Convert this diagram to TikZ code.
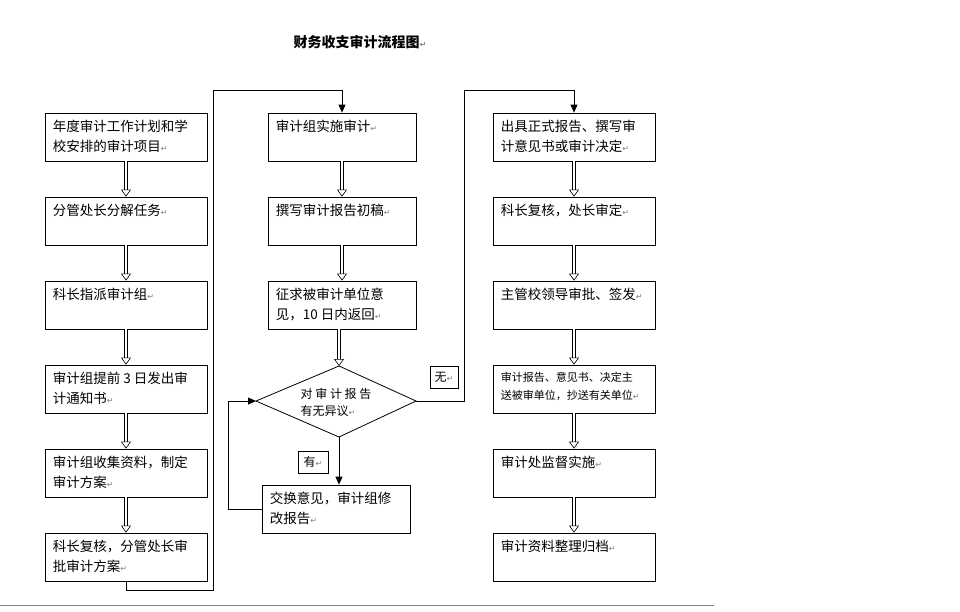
\documentclass[tikz,border=0pt]{standalone}
\usepackage{fontspec}
\setmainfont{Noto Sans CJK SC}
\newfontfamily\pmark{DejaVu Sans}
\usetikzlibrary{arrows.meta,calc}
\newcommand{\parmk}{{\pmark\color{gray}\fontsize{8}{8}\selectfont ↵}}
\tikzset{
  box/.style={draw, line width=0.8pt, minimum width=162pt, minimum height=48pt, inner sep=0pt},
  mbox/.style={draw, line width=0.8pt, minimum width=148pt, minimum height=48pt, inner sep=0pt},
  txt/.style={anchor=north west, align=left, inner sep=0pt, font=\fontsize{13.5}{20}\selectfont},
  harrow/.style={double, double distance=2.5pt, line width=0.6pt, -{Triangle[open, length=7pt, width=10pt]}},
  link/.style={line width=0.8pt},
  larrow/.style={line width=0.8pt, -{Triangle[length=8pt, width=7pt]}},
}
\newcommand{\bt}[2]{\node[txt] at ($(#1.north west)+(8,7)$) {#2};}
\begin{document}
\begin{tikzpicture}[x=1pt,y=-1pt]
\useasboundingbox (0,0) rectangle (960,611);
\node[font=\bfseries\fontsize{14}{14}\selectfont] (title) at (360,42) {财务收支审计流程图\parmk};
% left column
\foreach \n/\y in {l1/137,l2/221,l3/305,l4/389,l5/473,l6/557} \node[box] (\n) at (126,\y) {};
\foreach \n/\y in {r1/137,r2/221,r3/305,r4/389,r5/473,r6/557} \node[box] (\n) at (574,\y) {};
\foreach \n/\y in {m1/137,m2/221,m3/305} \node[mbox] (\n) at (342,\y) {};
\node[mbox] (m5) at (336,509) {};
\bt{l1}{年度审计工作计划和学\\校安排的审计项目\parmk}
\bt{l2}{分管处长分解任务\parmk}
\bt{l3}{科长指派审计组\parmk}
\bt{l4}{审计组提前 3 日发出审\\计通知书\parmk}
\bt{l5}{审计组收集资料，制定\\审计方案\parmk}
\bt{l6}{科长复核，分管处长审\\批审计方案\parmk}
\bt{m1}{审计组实施审计\parmk}
\bt{m2}{撰写审计报告初稿\parmk}
\bt{m3}{征求被审计单位意\\见，10 日内返回\parmk}
\bt{m5}{交换意见，审计组修\\改报告\parmk}
\bt{r1}{出具正式报告、撰写审\\计意见书或审计决定\parmk}
\bt{r2}{科长复核，处长审定\parmk}
\bt{r3}{主管校领导审批、签发\parmk}
\node[txt, font=\fontsize{11}{18}\selectfont] at ($(r4.north west)+(8,7)$) {审计报告、意见书、决定主\\送被审单位，抄送有关单位\parmk};
\bt{r5}{审计处监督实施\parmk}
\bt{r6}{审计资料整理归档\parmk}
% diamond
\coordinate (dl) at (256,401);
\coordinate (dr) at (416,401);
\coordinate (dt) at (339,366);
\coordinate (db) at (339,437);
\draw[link] (dl) -- (dt) -- (dr) -- (db) -- cycle;
\node[align=left, font=\fontsize{12}{17}\selectfont] (dtext) at (336,402) {对 审 计 报 告\\有无异议\parmk};
% hollow arrows
\foreach \a/\b in {l1/l2,l2/l3,l3/l4,l4/l5,l5/l6,r1/r2,r2/r3,r3/r4,r4/r5,r5/r6,m1/m2,m2/m3} \draw[harrow] (\a.south) -- (\b.north);
\draw[harrow] (m3.south -| dt) -- (dt);
% links
\draw[larrow] (l6.south) -- ++(0,9) -| (213,90) -| (m1.north);
\draw[larrow] (dr) -| (464,90) -| (r1.north);
\draw[larrow] (db) -- (db |- m5.north);
\draw[larrow] (m5.west) -| (228,401) -- (dl);
\node[draw, line width=0.8pt, minimum width=28pt, minimum height=22pt, font=\fontsize{12}{12}\selectfont] (wu) at (444,377) {无\parmk};
\node[draw, line width=0.8pt, minimum width=30pt, minimum height=22pt, font=\fontsize{12}{12}\selectfont] (you) at (313,462) {有\parmk};
\draw[line width=0.6pt, gray] (0,605) -- (714,605);
\end{tikzpicture}
\end{document}
